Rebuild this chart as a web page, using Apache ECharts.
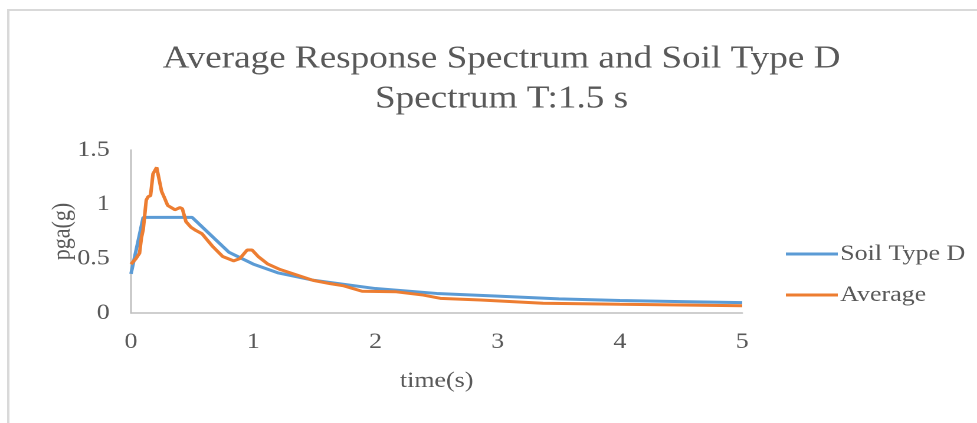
<!DOCTYPE html>
<html>
<head>
<meta charset="utf-8">
<style>
  html, body { margin: 0; padding: 0; background: #ffffff; overflow: hidden; }
  /* the chart is laid out on a narrower canvas and widened to the page */
  #chart { width: 828px; height: 423px; transform: scaleX(1.18); transform-origin: 0 0; }
</style>
<script src="https://cdn.jsdelivr.net/npm/echarts@6/dist/echarts.min.js"></script>
</head>
<body>
<div id="chart"></div>
<script>
// Design spectrum for soil type D: period (s) and spectral acceleration (g)
const soilPeriods = [0, 0.1, 0.5, 0.8, 1.0, 1.2, 1.5, 2.0, 2.5, 3.0, 3.5, 4.0, 4.5, 5.0];
const soilValues  = [0.36, 0.88, 0.88, 0.56, 0.45, 0.37, 0.30, 0.225, 0.18, 0.155, 0.13, 0.115, 0.105, 0.095];

// Average response spectrum of the records
const avgPeriods = [0, 0.04, 0.07, 0.085, 0.10, 0.125, 0.14, 0.16, 0.18, 0.21, 0.25, 0.27, 0.30, 0.33, 0.36,
                    0.40, 0.42, 0.45, 0.49, 0.53, 0.58, 0.67, 0.75, 0.84, 0.89, 0.95, 0.99, 1.04, 1.12, 1.22,
                    1.49, 1.63, 1.74, 1.89, 2.17, 2.39, 2.53, 2.86, 3.37, 4.0, 5.0];
const avgValues  = [0.45, 0.50, 0.55, 0.69, 0.77, 1.04, 1.07, 1.08, 1.28, 1.34, 1.12, 1.07, 0.99, 0.97, 0.95,
                    0.97, 0.96, 0.84, 0.79, 0.76, 0.73, 0.61, 0.52, 0.48, 0.50, 0.58, 0.58, 0.52, 0.45, 0.40,
                    0.30, 0.27, 0.25, 0.20, 0.195, 0.165, 0.135, 0.12, 0.09, 0.08, 0.067];

const seriesNames = ['Soil Type D', 'Average'];
const titleLines = ['Average Response Spectrum and Soil Type D', 'Spectrum T:1.5 s'];
const xAxisName = 'time(s)';
const yAxisName = 'pga(g)';

const pair = (xs, ys) => xs.map((x, i) => [x, ys[i]]);

const FONT = "'Liberation Serif', 'Times New Roman', serif";
const TEXT = '#595959';

const chart = echarts.init(document.getElementById('chart'), null, { renderer: 'canvas', devicePixelRatio: 2 });
chart.setOption({
  backgroundColor: '#ffffff',
  animation: false,
  graphic: [
    {
      type: 'rect',
      shape: { x: 7, y: 10, width: 1000, height: 500 },
      style: { fill: 'none', stroke: '#d9d9d9', lineWidth: 2 },
      silent: true
    },
    {
      // vertical axis title, set beside the tick labels
      type: 'text',
      x: 53,
      y: 231.5,
      rotation: Math.PI / 2,
      silent: true,
      style: {
        text: yAxisName,
        font: "22px 'Liberation Serif', 'Times New Roman', serif",
        fill: TEXT,
        align: 'center',
        verticalAlign: 'middle'
      }
    }
  ],
  title: {
    text: titleLines.join('\n'),
    left: 420,
    textAlign: 'center',
    top: 34,
    textStyle: { fontFamily: FONT, fontSize: 31.5, fontWeight: 'normal', color: TEXT, lineHeight: 40 }
  },
  legend: {
    orient: 'vertical',
    left: 661,
    top: 238,
    itemWidth: 44,
    itemHeight: 3,
    itemGap: 19,
    icon: 'rect',
    textStyle: { fontFamily: FONT, fontSize: 22, lineHeight: 22, color: TEXT, padding: [0, 0, 0, -3] },
    data: seriesNames
  },
  grid: { left: 111, right: 199, top: 150, bottom: 110 },
  xAxis: {
    type: 'value',
    min: 0, max: 5, interval: 1,
    name: xAxisName,
    nameLocation: 'middle',
    nameGap: 57,
    nameTextStyle: { fontFamily: FONT, fontSize: 22, color: TEXT },
    axisLine: { show: true, lineStyle: { color: '#bfbfbf', width: 1.5 } },
    axisTick: { show: false },
    splitLine: { show: false },
    axisLabel: { fontFamily: FONT, fontSize: 22, color: TEXT, margin: 18 }
  },
  yAxis: {
    type: 'value',
    min: 0, max: 1.5, interval: 0.5,
    axisLine: { show: true, lineStyle: { color: '#bfbfbf', width: 1.5 } },
    axisTick: { show: false },
    splitLine: { show: false },
    axisLabel: { fontFamily: FONT, fontSize: 22, color: TEXT, margin: 18 }
  },
  series: [
    {
      name: seriesNames[0],
      type: 'line',
      data: pair(soilPeriods, soilValues),
      showSymbol: false,
      lineStyle: { color: '#5B9BD5', width: 3 },
      itemStyle: { color: '#5B9BD5' }
    },
    {
      name: seriesNames[1],
      type: 'line',
      data: pair(avgPeriods, avgValues),
      showSymbol: false,
      lineStyle: { color: '#ED7D31', width: 3 },
      itemStyle: { color: '#ED7D31' }
    }
  ]
});
</script>
</body>
</html>
